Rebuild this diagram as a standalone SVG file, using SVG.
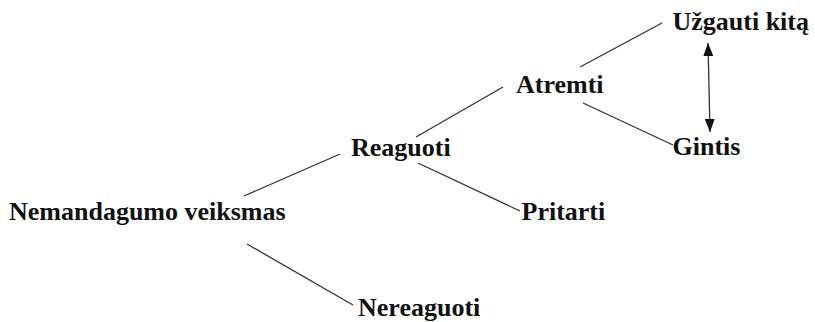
<svg xmlns="http://www.w3.org/2000/svg" width="815" height="322" viewBox="0 0 815 322">
<style>
text{font-family:"Liberation Serif","Times New Roman",serif;font-weight:bold;font-size:26px;fill:#111}
.ln{stroke:#333;stroke-width:1.3;fill:none}
</style>
<defs>
<marker id="ah" viewBox="0 0 13 10" refX="13" refY="5" markerWidth="13" markerHeight="10" markerUnits="userSpaceOnUse" orient="auto-start-reverse">
<path d="M0,0 L13,5 L0,10 z" fill="#111"/>
</marker>
</defs>
<rect width="815" height="322" fill="#fff"/>
<g id="connectors">
<line class="ln" x1="244" y1="196" x2="340" y2="154"/>
<line class="ln" x1="247" y1="244" x2="353" y2="305"/>
<line class="ln" x1="418" y1="163" x2="520" y2="211"/>
<line class="ln" x1="416" y1="137" x2="503" y2="87"/>
<line class="ln" x1="580" y1="67" x2="662" y2="23"/>
<line class="ln" x1="583" y1="103" x2="673" y2="145"/>
<line class="ln" x1="708" y1="43" x2="710" y2="132" marker-start="url(#ah)" marker-end="url(#ah)"/>
</g>
<g id="n-nemandagumo"><text x="9" y="219.5">Nemandagumo veiksmas</text></g>
<g id="n-reaguoti"><text x="351" y="156">Reaguoti</text></g>
<g id="n-nereaguoti"><text x="358" y="316">Nereaguoti</text></g>
<g id="n-atremti"><text x="516" y="92.5">Atremti</text></g>
<g id="n-pritarti"><text x="521.5" y="220">Pritarti</text></g>
<g id="n-uzgauti"><text x="672.5" y="29.5">Užgauti kitą</text></g>
<g id="n-gintis"><text x="672.5" y="155">Gintis</text></g>
</svg>
